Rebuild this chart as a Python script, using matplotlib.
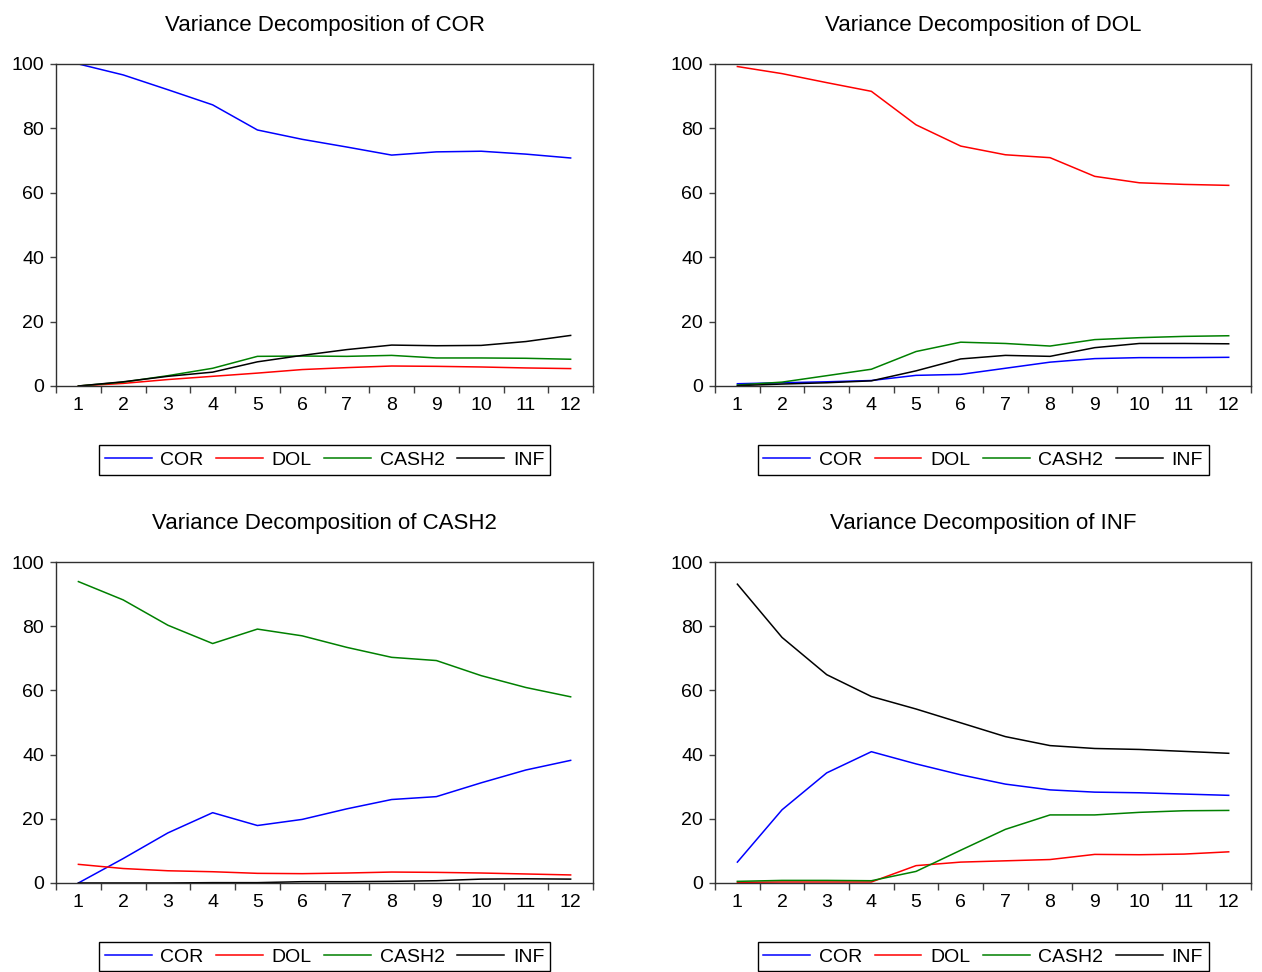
## Variance decomposition panels
import matplotlib
matplotlib.use('Agg')
import matplotlib.pyplot as plt
from matplotlib.ticker import MultipleLocator, FixedLocator

plt.rcParams['font.family'] = ['Liberation Sans', 'DejaVu Sans']

periods = list(range(1, 13))
seriesNames = ['COR', 'DOL', 'CASH2', 'INF']
seriesColors = ['#0000ff', '#ff0000', '#008000', '#000000']

# response variable: COR
cor_COR = [100, 96.6, 92.0, 87.3, 79.5, 76.6, 74.2, 71.7, 72.7, 72.9, 72.0, 70.8]
cor_DOL = [0, 0.8, 2.0, 3.0, 4.0, 5.1, 5.7, 6.2, 6.1, 5.9, 5.6, 5.4]
cor_CASH2 = [0, 1.2, 3.2, 5.5, 9.2, 9.3, 9.2, 9.5, 8.7, 8.7, 8.6, 8.3]
cor_INF = [0, 1.3, 3.0, 4.3, 7.5, 9.5, 11.3, 12.7, 12.5, 12.6, 13.8, 15.7]

# response variable: DOL
dol_COR = [0.7, 1.0, 1.3, 1.7, 3.3, 3.6, 5.5, 7.4, 8.5, 8.8, 8.8, 8.9]
dol_DOL = [99.2, 97.0, 94.2, 91.5, 81.1, 74.5, 71.8, 70.9, 65.1, 63.1, 62.6, 62.3]
dol_CASH2 = [0.3, 1.2, 3.2, 5.2, 10.7, 13.6, 13.2, 12.4, 14.4, 15.0, 15.4, 15.6]
dol_INF = [0.1, 0.6, 1.0, 1.6, 4.7, 8.4, 9.5, 9.2, 11.9, 13.2, 13.2, 13.1]

# response variable: CASH2
cash_COR = [0, 7.6, 15.6, 21.9, 17.9, 19.8, 23.1, 26.0, 26.9, 31.2, 35.2, 38.2]
cash_DOL = [5.8, 4.5, 3.8, 3.5, 3.0, 2.9, 3.1, 3.4, 3.3, 3.1, 2.8, 2.5]
cash_CASH2 = [93.9, 88.2, 80.3, 74.6, 79.1, 77.0, 73.4, 70.3, 69.3, 64.6, 60.9, 58.0]
cash_INF = [0, 0, 0, 0.1, 0.1, 0.4, 0.4, 0.5, 0.7, 1.2, 1.3, 1.2]

# response variable: INF
inf_COR = [6.5, 22.8, 34.3, 40.9, 37.1, 33.7, 30.8, 29.0, 28.3, 28.1, 27.7, 27.3]
inf_DOL = [0.2, 0.3, 0.3, 0.3, 5.4, 6.5, 6.9, 7.3, 8.9, 8.8, 9.0, 9.7]
inf_CASH2 = [0.5, 0.8, 0.8, 0.7, 3.6, 10.2, 16.7, 21.2, 21.2, 22.0, 22.5, 22.6]
inf_INF = [93.1, 76.5, 64.9, 58.1, 54.2, 49.9, 45.6, 42.8, 41.9, 41.6, 41.0, 40.4]

panels = [
    ('COR', [cor_COR, cor_DOL, cor_CASH2, cor_INF]),
    ('DOL', [dol_COR, dol_DOL, dol_CASH2, dol_INF]),
    ('CASH2', [cash_COR, cash_DOL, cash_CASH2, cash_INF]),
    ('INF', [inf_COR, inf_DOL, inf_CASH2, inf_INF]),
]

# axes boxes in figure fractions: left, bottom, width, height
boxes = [
    [0.0444, 0.6029, 0.4255, 0.3313],
    [0.5666, 0.6029, 0.4247, 0.3313],
    [0.0444, 0.0916, 0.4255, 0.3302],
    [0.5666, 0.0916, 0.4247, 0.3302],
]

fig = plt.figure(figsize=(12.62, 9.72), dpi=100)

for (name, values), box in zip(panels, boxes):
    ax = fig.add_axes(box)
    for label, vals, col in zip(seriesNames, values, seriesColors):
        ax.plot(periods, vals, color=col, linewidth=1.1, label=label)
    ax.set_xlim(0.5, 12.5)
    ax.set_ylim(0, 100)
    ax.set_title('Variance Decomposition of ' + name, fontsize=16, pad=24)
    ax.yaxis.set_major_locator(MultipleLocator(20))
    ax.xaxis.set_major_locator(FixedLocator(periods))
    ax.xaxis.set_minor_locator(FixedLocator([p + 0.5 for p in range(0, 13)]))
    ax.tick_params(axis='x', which='major', length=0, labelsize=14, pad=8)
    ax.tick_params(axis='x', which='minor', length=5, width=1, color='#404040')
    ax.tick_params(axis='y', which='major', length=4.5, width=1, color='#404040',
                   labelsize=14, pad=4)
    for s in ax.spines.values():
        s.set_linewidth(1.0)
        s.set_color('#303030')
    leg = ax.legend(loc='center', bbox_to_anchor=(0.5, -0.23), ncol=4,
                    fontsize=14, frameon=True, fancybox=False, framealpha=1,
                    edgecolor='black', handlelength=2.4, columnspacing=0.65,
                    handletextpad=0.45, borderpad=0.3)
    leg.get_frame().set_linewidth(1.0)

fig.savefig('out.png', dpi=100)
